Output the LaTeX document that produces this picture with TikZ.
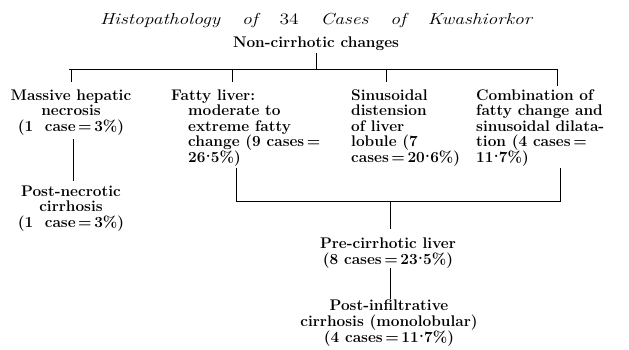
\documentclass[tikz,border=0pt]{standalone}
\usepackage{fontspec}
\usepackage{graphicx}
\font\ttlit="[lmroman12-italic.otf]" at 16pt
\font\ttlup="[lmroman12-regular.otf]" at 16pt
\newcommand{\CL}[1]{\vtop{\halign{\hfil##\hfil\cr#1\crcr}}}
\newcommand{\LL}[1]{\vtop{\halign{##\hfil\cr#1\crcr}}}
\newcommand{\cdt}{\kern0.3pt\raisebox{0.3em}{.}\kern0.3pt}
\newcommand{\sw}[1]{\scalebox{1.22}[1]{#1}}
\begin{document}
\begin{tikzpicture}[x=1pt,y=-1pt,
  txt/.style={inner sep=0pt, font={\fontsize{15.4}{15.5}\selectfont\bfseries\lineskiplimit=-50pt\lineskip=0pt}},
  wtxt/.style={inner sep=0pt, font={\fontsize{15.4}{16}\selectfont\bfseries\lineskiplimit=-50pt\lineskip=0pt}},
  ctxt/.style={txt, anchor=base},
  ltxt/.style={txt, anchor=base west},
  wctxt/.style={wtxt, anchor=base},
  ttl/.style={inner sep=0pt, anchor=base, font=\ttlit},
  conn/.style={line width=0.8pt}]
\useasboundingbox (0,0) rectangle (629,349);
% title
\node[ttl] (title) at (316,24) {\makebox[432pt][s]{\sw{Histopathology}\hfill\sw{of}\hfill\sw{\ttlup 34}\hfill\sw{Cases}\hfill\sw{of}\hfill\sw{Kwashiorkor}}};
% nodes
\node[ctxt] (noncirr) at (316,47) {Non-cirrhotic changes};
\node[ctxt] (massive) at (71,100) {\CL{Massive hepatic\cr necrosis\cr (1\ \ case\,=\,3\%)}};
\node[ltxt] (fatty) at (171,100) {\LL{Fatty liver:\cr \hspace*{17pt}moderate to\cr \hspace*{17pt}extreme fatty\cr \hspace*{17pt}change (9 cases\,=\cr \hspace*{17pt}26\cdt5\%)}};
\node[ltxt] (sinus) at (351,100) {\LL{Sinusoidal\cr distension\cr of liver\cr lobule (7\cr cases\,=\,20\cdt6\%)}};
\node[ltxt] (combo) at (476,100) {\LL{Combination of\cr fatty change and\cr sinusoidal dilata-\cr tion (4 cases\,=\cr 11\cdt7\%)}};
\node[ctxt] (postnec) at (71,196) {\CL{Post-necrotic\cr cirrhosis\cr (1\ \ case\,=\,3\%)}};
\node[wctxt] (precirr) at (388,248) {\CL{Pre-cirrhotic liver\cr (8 cases\,=\,23\cdt5\%)}};
\node[wctxt] (postinf) at (389,310) {\CL{Post-infiltrative\cr cirrhosis (monolobular)\cr (4 cases\,=\,11\cdt7\%)}};
% bus coordinates
\coordinate (busL) at (69,69);
\coordinate (busR) at (557,69);
\coordinate (d1) at (71,69);
\coordinate (d2) at (232,69);
\coordinate (d3) at (386,69);
\coordinate (d4) at (557,69);
\coordinate (lowL) at (236,201);
\coordinate (lowR) at (560,201);
\coordinate (lowM) at (390,201);
% connectors
\draw[conn] ([yshift=-3pt]noncirr.south) -- (noncirr.south |- busL);
\draw[conn] (busL) -- (busR);
\draw[conn] (d1) -- ([yshift=7pt]d1 |- massive.north);
\draw[conn] (d2) -- ([yshift=7pt]d2 |- fatty.north);
\draw[conn] (d3) -- ([yshift=7pt]d3 |- sinus.north);
\draw[conn] (d4) -- ([yshift=3pt]d4 |- combo.north);
\draw[conn] ([xshift=2pt,yshift=-4pt]massive.south) -- ([xshift=2pt,yshift=4pt]postnec.north);
\draw[conn] ([yshift=-2pt]lowL |- fatty.south) -- (lowL) -- (lowR) -- ([yshift=-2pt]lowR |- combo.south);
\draw[conn] (lowM) -- ([yshift=8pt]lowM |- precirr.north);
\draw[conn] (lowM |- precirr.south) -- (lowM |- postinf.north);
\end{tikzpicture}
\end{document}
